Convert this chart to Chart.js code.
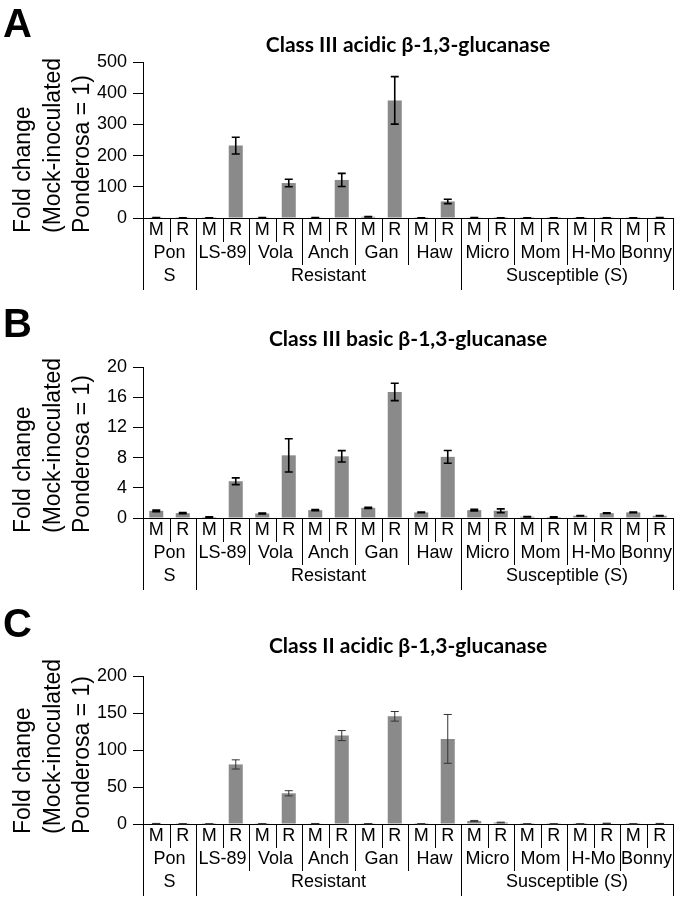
<!DOCTYPE html>
<html>
<head>
<meta charset="utf-8">
<script src="https://cdn.jsdelivr.net/npm/chart.js@4.4.1/dist/chart.umd.min.js"></script>
<style>
  body { margin: 0; background: #fff; }
  canvas { display: block; }
</style>
</head>
<body>
<canvas id="chartA" width="683" height="300"></canvas>
<canvas id="chartB" width="683" height="300"></canvas>
<canvas id="chartC" width="683" height="302"></canvas>
<script>
// categories
const cultivars = ['Pon', 'LS-89', 'Vola', 'Anch', 'Gan', 'Haw', 'Micro', 'Mom', 'H-Mo', 'Bonny'];
const treatments = ['M', 'R'];
const groups = ['S', 'Resistant', 'Susceptible (S)'];
const groupSizes = [1, 5, 4]; // cultivars per group

// A: Class III acidic (M, R for each cultivar)
const acidicIIIValues = [1, 0.6, 0.5, 232, 1, 112, 1, 122, 4, 377, 0.5, 53, 1, 0.3, 0.3, 0.3, 0.3, 0.3, 0.3, 1];
const acidicIIIErrors = [0.3, 0.2, 0.2, 27, 0.3, 12, 0.3, 21, 1, 76, 0.2, 7, 0.3, 0.1, 0.1, 0.1, 0.1, 0.1, 0.1, 0.3];

// B: Class III basic
const basicIIIValues = [0.95, 0.65, 0.13, 4.87, 0.6, 8.3, 1.04, 8.17, 1.35, 16.7, 0.74, 8.1, 1.04, 0.96, 0.17, 0.13, 0.3, 0.65, 0.74, 0.3];
const basicIIIErrors = [0.1, 0.07, 0.03, 0.45, 0.05, 2.2, 0.08, 0.75, 0.08, 1.15, 0.05, 0.85, 0.1, 0.25, 0.03, 0.02, 0.04, 0.05, 0.05, 0.04];

// C: Class II acidic
const acidicIIValues = [0.6, 0.3, 0.2, 80.5, 0.3, 41.5, 0.5, 119.5, 0.4, 145.5, 0.2, 115, 4, 2, 0.2, 0.2, 0.2, 0.8, 0.2, 0.6];
const acidicIIErrors = [0.2, 0.1, 0.1, 6.2, 0.1, 3.5, 0.2, 6.8, 0.1, 6.5, 0.1, 33, 0.8, 0.5, 0.1, 0.1, 0.1, 0.3, 0.1, 0.2];

const labels = cultivars.flatMap(c => treatments.map(t => c + ' ' + t));
const FONT = "'Liberation Sans', Arial, sans-serif";

const decorPlugin = {
  id: 'decor',
  afterDatasetsDraw(chart, args, opts) {
    const { ctx } = chart;
    const y = chart.scales.y;
    const meta = chart.getDatasetMeta(0);

    // error bars
    ctx.save();
    ctx.strokeStyle = opts.errColor;
    ctx.lineWidth = opts.errWidth;
    opts.errors.forEach((e, i) => {
      const v = opts.values[i];
      const px = meta.data[i].x;
      const top = y.getPixelForValue(v + e);
      const bot = y.getPixelForValue(Math.max(v - e, 0));
      ctx.beginPath();
      ctx.moveTo(px, top); ctx.lineTo(px, bot);
      ctx.moveTo(px - 4, top); ctx.lineTo(px + 4, top);
      ctx.moveTo(px - 4, bot); ctx.lineTo(px + 4, bot);
      ctx.stroke();
    });
    ctx.restore();
  },
  afterDraw(chart, args, opts) {
    const { ctx, chartArea } = chart;
    const x = chart.scales.x;
    const y0 = chartArea.bottom;
    const n = labels.length;
    const cw = (chartArea.right - chartArea.left) / n;
    const bx = k => chartArea.left + k * cw;

    ctx.save();
    // panel letter
    ctx.fillStyle = '#000';
    ctx.font = "bold 40px " + FONT;
    ctx.textBaseline = 'top';
    ctx.textAlign = 'left';
    ctx.fillText(opts.letter, 3, opts.letterY);

    // title
    ctx.font = "bold 21px Lato, 'Open Sans', sans-serif";
    ctx.textAlign = 'center';
    ctx.textBaseline = 'middle';
    ctx.fillText(opts.title, 408, opts.titleY);

    // y title lines
    ctx.font = "23px " + FONT;
    ctx.textAlign = 'left';
    ctx.textBaseline = 'middle';
    const yLines = ['Fold change', '(Mock-inoculated', 'Ponderosa = 1)'];
    const yLineX = [24, 54, 83];
    yLines.forEach((t, i) => {
      ctx.save();
      ctx.translate(yLineX[i], y0 + opts.yTitleOffset);
      ctx.rotate(-Math.PI / 2);
      ctx.fillText(t, 0, 0);
      ctx.restore();
    });

    // category table
    ctx.strokeStyle = '#000';
    ctx.lineWidth = 1;
    const groupEdges = [0];
    groupSizes.forEach(g => groupEdges.push(groupEdges[groupEdges.length - 1] + g * 2));
    for (let k = 0; k <= n; k++) {
      let len = 24;
      if (groupEdges.includes(k)) len = 72;
      else if (k % 2 === 0) len = 47;
      const px = Math.round(bx(k)) + 0.5;
      ctx.beginPath();
      ctx.moveTo(px, y0);
      ctx.lineTo(px, y0 + len);
      ctx.stroke();
    }

    ctx.font = "18px " + FONT;
    ctx.textAlign = 'center';
    ctx.textBaseline = 'middle';
    labels.forEach((l, i) => {
      ctx.fillText(treatments[i % 2], x.getPixelForValue(i), y0 + 12);
    });
    cultivars.forEach((c, j) => {
      ctx.fillText(c, bx(2 * j + 1), y0 + 35);
    });
    groups.forEach((g, j) => {
      ctx.fillText(g, (bx(groupEdges[j]) + bx(groupEdges[j + 1])) / 2, y0 + 58);
    });
    ctx.restore();
  }
};

function makeChart(id, values, errors, max, step, pad, decor) {
  return new Chart(document.getElementById(id), {
    type: 'bar',
    data: {
      labels: labels,
      datasets: [{
        data: values,
        backgroundColor: '#8a8a8a',
        barPercentage: 0.53,
        categoryPercentage: 1.0
      }]
    },
    options: {
      responsive: false,
      animation: false,
      layout: { padding: pad },
      plugins: {
        legend: { display: false },
        tooltip: { enabled: false },
        decor: Object.assign({ values: values, errors: errors }, decor)
      },
      scales: {
        x: {
          ticks: { display: false },
          grid: { display: false },
          border: { color: '#000', width: 1 },
          afterFit(s) { s.height = 0; }
        },
        y: {
          min: 0,
          max: max,
          ticks: { stepSize: step, color: '#000', padding: 6, font: { family: FONT, size: 18 } },
          grid: { drawOnChartArea: false, drawTicks: true, tickLength: 10, color: '#000' },
          border: { color: '#000', width: 1 },
          afterFit(s) { s.width = 143; }
        }
      }
    },
    plugins: [decorPlugin]
  });
}

makeChart('chartA', acidicIIIValues, acidicIIIErrors, 500, 100,
  { top: 62, bottom: 82, left: 0, right: 10 },
  { letter: 'A', letterY: 6, title: 'Class III acidic β-1,3-glucanase', titleY: 45, yTitleOffset: 15, errColor: '#000', errWidth: 1.6 });

makeChart('chartB', basicIIIValues, basicIIIErrors, 20, 4,
  { top: 67, bottom: 82, left: 0, right: 10 },
  { letter: 'B', letterY: 6, title: 'Class III basic β-1,3-glucanase', titleY: 39, yTitleOffset: 15, errColor: '#000', errWidth: 1.6 });

makeChart('chartC', acidicIIValues, acidicIIErrors, 200, 50,
  { top: 76, bottom: 78, left: 0, right: 10 },
  { letter: 'C', letterY: 6, title: 'Class II acidic β-1,3-glucanase', titleY: 46, yTitleOffset: 10, errColor: '#333', errWidth: 1 });
</script>
</body>
</html>
